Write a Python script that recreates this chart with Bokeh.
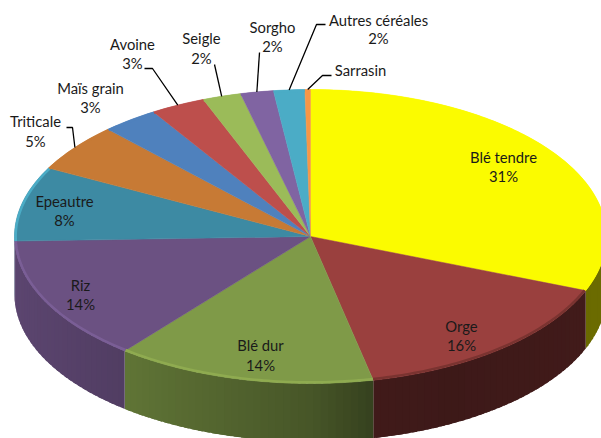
import numpy as np
from bokeh.plotting import figure
from bokeh.models import Range1d
from bokeh.core.properties import value
from bokeh.embed import file_html
from bokeh.resources import INLINE

# ---- data
names = ["Blé tendre", "Orge", "Blé dur", "Riz", "Epeautre", "Triticale", "Maïs grain",
         "Avoine", "Seigle", "Sorgho", "Autres céréales", "Sarrasin"]
shares = [31.0, 15.6, 14.2, 13.7, 8.2, 5.3, 3.1, 3.0, 2.1, 1.8, 1.7, 0.3]
pct_labels = ["31%", "16%", "14%", "14%", "8%", "5%", "3%", "3%", "2%", "2%", "2%", ""]
top_colors = ["#fbfb00", "#9a403e", "#7f9a48", "#6b5182", "#3d8aa3", "#c77a35", "#4f81bd",
              "#bd4f4c", "#9bbb59", "#8064a2", "#4bacc6", "#f79646"]
rim_colors = ["#fbfb00", "#7a3330", "#8fab50", "#7a5e96", "#4bacc6", "#c77a35", "#4f81bd",
              "#bd4f4c", "#9bbb59", "#8064a2", "#4bacc6", "#f79646"]

# ---- layout (page pixels)
W, H = 601, 438
CX, CY, RX, RY, DEPTH = 310, 236, 296, 147, 58
label_x = [503, 461, 260, 80, 64, 35, 90, 132, 201, 272, 378, 360]
label_y = [156, 325, 344, 284, 200, 120, 87, 43, 37, 26, 19, 69]
pct_x = [503, 461, 260, 80, 64, 35, 90, 132, 201, 272, 378, 360]
pct_y = [175, 344, 364, 303, 219, 140, 106, 62, 57, 45, 37, 69]
# leader start points, ending on the slice's rim point
leaders = {5: [(66, 127), (72, 127)], 7: [(144, 68), (152, 68)], 8: [(214, 64)], 9: [(259, 52)],
           10: [(325, 24), (316, 24)], 11: [(331, 75), (322, 75)]}
shade_x = [14, 123, 310, 375, 450, 610]
shade_f = [0.86, 0.76, 0.56, 0.42, 0.40, 0.43]


def ex(t):
    return RX * np.sin(t)


def ey(t):
    return RY * np.cos(t)


def darker(hexc, f):
    return "#%02x%02x%02x" % tuple(int(int(hexc[i:i + 2], 16) * f) for i in (1, 3, 5))


p = figure(width=W, height=H, output_backend="svg", toolbar_location=None,
           x_range=Range1d(-CX, W - CX), y_range=Range1d(CY - H, CY),
           min_border=0, outline_line_color=None, background_fill_color="white")
p.xaxis.visible = False
p.yaxis.visible = False
p.grid.visible = False

edges = np.concatenate([[0], np.cumsum(shares)]) / sum(shares) * 2 * np.pi

# front wall, in shaded strips that overlap so no seams show
sx, sy, sc = [], [], []
for i in range(len(shares)):
    a, b = max(edges[i], np.pi / 2), min(edges[i + 1], 3 * np.pi / 2)
    if b <= a:
        continue
    ts = np.linspace(a, b, max(2, int((b - a) / np.radians(1.5)) + 2))
    for t0, t1 in zip(ts[:-1], ts[1:]):
        t2 = min(t1 + np.radians(1.0), b)
        xs = [ex(t0), ex(t2), ex(t2), ex(t0)]
        ys = [ey(t0), ey(t2), ey(t2) - DEPTH, ey(t0) - DEPTH]
        sx.append(xs)
        sy.append(ys)
        sc.append(darker(top_colors[i], np.interp(CX + ex((t0 + t1) / 2), shade_x, shade_f)))
p.patches(sx, sy, fill_color=sc, line_color=None)

# top face
tx, ty = [], []
for i in range(len(shares)):
    ts = np.linspace(edges[i], edges[i + 1], max(3, int(shares[i] * 4)))
    tx.append([0.0] + list(ex(ts)))
    ty.append([0.0] + list(ey(ts)))
p.patches(tx, ty, fill_color=top_colors, line_color=top_colors, line_width=0.5)

# bevelled rim of the top face
rx_, ry_ = [], []
for i in range(len(shares)):
    ts = np.linspace(edges[i], edges[i + 1], max(3, int(shares[i] * 4)))
    rx_.append(list(ex(ts) * 0.996))
    ry_.append(list(ey(ts) * 0.992))
p.multi_line(rx_, ry_, line_color=rim_colors, line_width=2.5, line_join="round")

# leader lines
for i, pts in leaders.items():
    mid = (edges[i] + edges[i + 1]) / 2
    xs = [x - CX for x, _ in pts] + [ex(mid)]
    ys = [CY - y for _, y in pts] + [ey(mid)]
    p.line(xs, ys, line_color="#000000", line_width=1.3)

# texts
kw = dict(text_font=value("Lato"), text_font_size="14.8px", text_color="#1a1a1a",
          text_align="center", text_baseline="middle")
p.text([x - CX for x in label_x], [CY - y for y in label_y], text=names, **kw)
keep = [i for i, s in enumerate(pct_labels) if s]
p.text([pct_x[i] - CX for i in keep], [CY - pct_y[i] for i in keep],
       text=[pct_labels[i] for i in keep], **kw)

open("out.html", "w").write(file_html(p, INLINE))
